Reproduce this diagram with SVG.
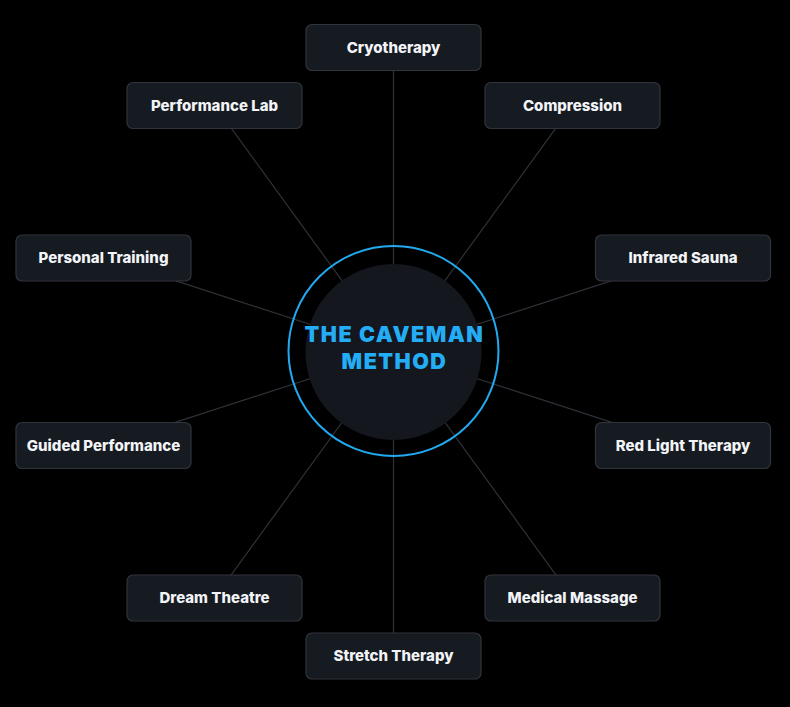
<svg xmlns="http://www.w3.org/2000/svg" width="790" height="707" viewBox="0 0 790 707">
<style>
.bg{fill:#000}
.edge{stroke:#2f3238;stroke-width:1.2;fill:none}
.box{fill:#161a21;stroke:#30343b;stroke-width:1.2}
.lbl{font-family:Inter,"Liberation Sans",sans-serif;font-weight:800;font-size:15px;fill:#f2f4f7;text-anchor:middle}
.title{font-family:Inter,"Liberation Sans",Arial,sans-serif;font-weight:900;font-size:21.5px;fill:#24adf7;text-anchor:middle;letter-spacing:1.5px}
</style>
<rect class="bg" width="790" height="707"/>
<g id="connectors">
<line class="edge" x1="393.5" y1="351.5" x2="393.5" y2="47.5"/>
<line class="edge" x1="393.5" y1="351.5" x2="572.2" y2="105.6"/>
<line class="edge" x1="393.5" y1="351.5" x2="682.6" y2="257.6"/>
<line class="edge" x1="393.5" y1="351.5" x2="682.6" y2="445.4"/>
<line class="edge" x1="393.5" y1="351.5" x2="572.2" y2="597.4"/>
<line class="edge" x1="393.5" y1="351.5" x2="393.5" y2="655.5"/>
<line class="edge" x1="393.5" y1="351.5" x2="214.8" y2="597.4"/>
<line class="edge" x1="393.5" y1="351.5" x2="104.4" y2="445.4"/>
<line class="edge" x1="393.5" y1="351.5" x2="104.4" y2="257.6"/>
<line class="edge" x1="393.5" y1="351.5" x2="214.8" y2="105.6"/>
</g>
<g id="center">
<circle cx="393.5" cy="351" r="105" fill="none" stroke="#22aaf0" stroke-width="2"/>
<circle cx="393.5" cy="352" r="88" fill="#14171d"/>
<text class="title" x="394.5" y="342">THE CAVEMAN</text>
<text class="title" x="394.5" y="369">METHOD</text>
</g>
<g id="n-cryotherapy"><rect class="box" x="306" y="24.5" width="175" height="46" rx="6"/><text class="lbl" x="393.5" y="52.5">Cryotherapy</text></g>
<g id="n-compression"><rect class="box" x="485" y="82.5" width="175" height="46" rx="6"/><text class="lbl" x="572.5" y="110.5">Compression</text></g>
<g id="n-infrared-sauna"><rect class="box" x="595.5" y="235" width="175" height="46" rx="6"/><text class="lbl" x="683" y="263">Infrared Sauna</text></g>
<g id="n-red-light-therapy"><rect class="box" x="595.5" y="422.5" width="175" height="46" rx="6"/><text class="lbl" x="683" y="450.5">Red Light Therapy</text></g>
<g id="n-medical-massage"><rect class="box" x="485" y="575" width="175" height="46" rx="6"/><text class="lbl" x="572.5" y="603">Medical Massage</text></g>
<g id="n-stretch-therapy"><rect class="box" x="306" y="633" width="175" height="46" rx="6"/><text class="lbl" x="393.5" y="661">Stretch Therapy</text></g>
<g id="n-dream-theatre"><rect class="box" x="127" y="575" width="175" height="46" rx="6"/><text class="lbl" x="214.5" y="603">Dream Theatre</text></g>
<g id="n-guided-performance"><rect class="box" x="16" y="422.5" width="175" height="46" rx="6"/><text class="lbl" x="103.5" y="450.5">Guided Performance</text></g>
<g id="n-personal-training"><rect class="box" x="16" y="235" width="175" height="46" rx="6"/><text class="lbl" x="103.5" y="263">Personal Training</text></g>
<g id="n-performance-lab"><rect class="box" x="127" y="82.5" width="175" height="46" rx="6"/><text class="lbl" x="214.5" y="110.5">Performance Lab</text></g>
</svg>
